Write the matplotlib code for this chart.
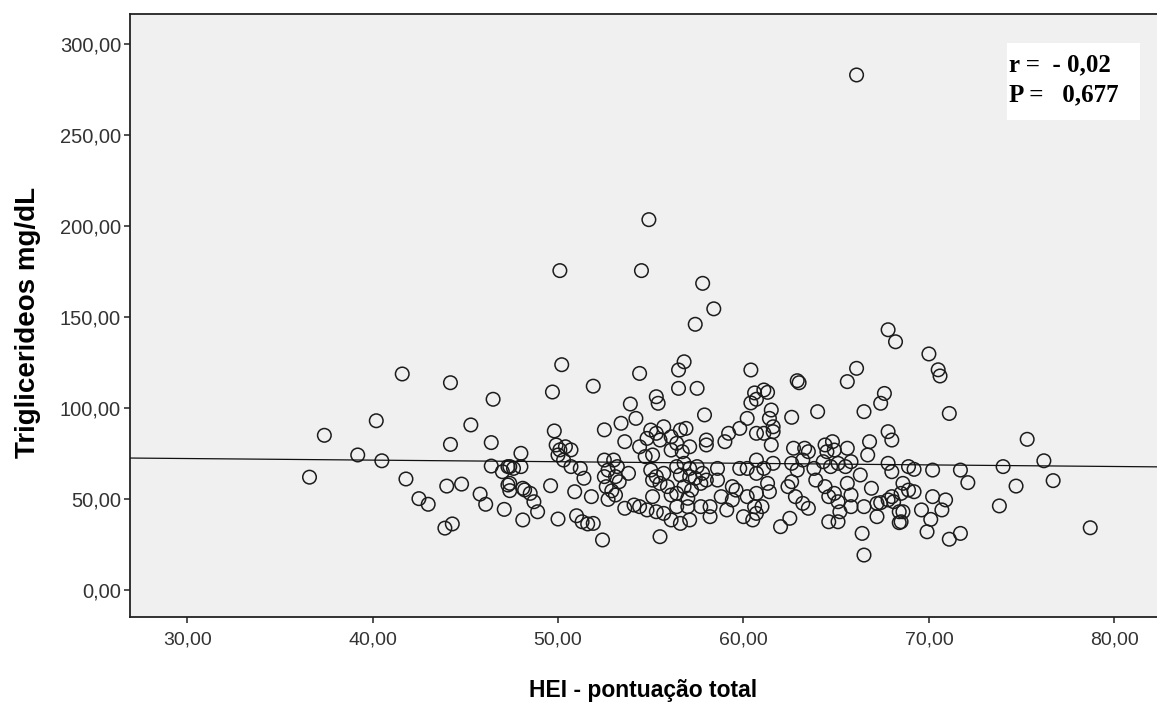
import matplotlib
matplotlib.use("Agg")
import matplotlib.pyplot as plt
from matplotlib.patches import Rectangle

# ---- data ----
hei = [
    66.1, 54.9, 50.1, 54.5, 57.8, 58.4, 57.4, 67.8, 68.2, 70.0, 70.5, 70.6, 66.1, 65.6, 71.1, 67.6, 67.4, 66.5,
    36.6, 37.4, 39.2, 40.2, 40.5, 41.6, 41.8, 42.5, 43.0, 43.9, 44.3, 44.0, 44.8, 44.2, 44.2, 45.3, 46.4, 46.5,
    45.8, 46.1, 46.4, 47.1, 48.0, 47.0, 47.4, 48.0, 47.3, 47.6,
    47.4, 47.4, 48.2, 48.5, 48.7, 48.9, 48.1, 49.6, 50.0, 50.9, 51.0, 51.3, 51.6, 49.9, 50.1, 50.7, 50.3, 50.7,
    50.0, 50.2, 49.7, 49.8, 47.3, 48.1, 50.4, 51.2,
    51.9, 52.5, 52.5, 53.0, 52.5, 53.1, 52.7, 53.2, 53.8, 51.4, 51.8, 52.7, 53.1, 52.6, 53.3, 52.9, 51.9, 52.4,
    53.6, 54.1, 54.4,
    53.4, 54.2, 53.6, 53.9, 54.4,
    56.5, 57.5, 55.3, 55.4, 57.9, 59.8, 60.2, 60.7, 59.2, 59.0, 58.0, 58.0,
    55.0, 55.3, 54.8, 55.5, 55.7, 56.1, 56.6, 56.9, 56.4, 57.1, 56.1, 56.7, 54.4, 54.7, 55.1,
    55.0, 55.3, 55.1, 55.7, 55.5, 55.9, 56.4, 56.8, 57.1, 57.5, 56.6, 57.1, 57.4, 57.8, 56.8, 57.2, 57.7, 58.0,
    56.4, 57.0, 56.1, 55.1, 54.8, 55.3, 55.7, 56.1, 56.6, 57.1, 56.4, 57.0, 57.7, 58.2, 58.2, 58.6, 58.6, 55.5,
    59.8, 60.2, 60.7, 60.7, 59.6, 60.2, 60.6, 60.0, 60.5, 60.7, 59.1, 58.8, 59.4, 59.4,
    56.8, 56.5, 60.4, 62.9,
    60.4, 60.7, 60.6, 61.1, 61.3,
    63.0, 61.5, 61.4, 61.6, 61.1, 61.6, 61.5, 62.6, 64.0, 67.8, 68.0, 66.8, 66.7, 62.7, 63.3, 63.5, 64.4, 64.8,
    64.9, 64.5, 65.6,
    61.1, 61.6, 62.6, 62.9, 63.2, 63.8, 64.3, 64.7, 65.1, 65.5, 65.8, 66.3, 67.8, 68.0, 68.9,
    61.3, 61.4, 60.7, 61.0, 62.4, 62.6, 62.8, 63.2, 63.5, 63.9, 64.4, 64.6, 64.9, 65.1, 65.2, 64.6, 65.1, 65.6,
    65.8, 65.8, 66.5, 66.9, 67.2, 67.8, 68.0, 68.1, 68.4, 68.6, 68.9, 67.2, 68.5, 66.4, 66.5, 62.5, 62.0,
    75.3, 76.2, 76.7, 74.0, 74.7, 73.8, 78.7, 71.7, 72.1, 70.2, 69.2, 68.5, 69.2, 70.2, 70.9, 70.7, 69.6, 70.1,
    69.9, 68.6, 68.4, 71.1, 71.7, 67.4,
]
triglicerideos = [
    283.0, 203.5, 175.5, 175.5, 168.5, 154.5, 146.0, 143.0, 136.4, 129.7, 121.0, 117.6, 121.8, 114.5, 97.0, 108.0, 102.6, 98.0,
    62.0, 85.0, 74.2, 93.0, 71.0, 118.7, 61.0, 50.2, 47.1, 34.0, 36.3, 57.1, 58.2, 113.9, 80.0, 90.7, 81.0, 104.8,
    52.7, 47.1, 68.1, 44.3, 75.1, 65.0, 67.8, 67.8, 67.8, 66.8,
    58.6, 54.6, 55.0, 53.1, 48.5, 43.0, 38.5, 57.3, 39.0, 54.0, 40.8, 37.5, 36.3, 79.7, 77.0, 77.0, 71.4, 67.8,
    74.2, 123.8, 108.8, 87.4, 57.7, 55.9, 78.7, 66.8,
    112.0, 88.0, 71.4, 71.4, 62.3, 62.3, 65.9, 67.8, 64.1, 61.4, 51.3, 49.8, 52.2, 56.8, 59.5, 54.5, 36.6, 27.5,
    44.9, 46.7, 45.8,
    91.6, 94.3, 81.5, 102.2, 119.0,
    110.8, 110.8, 106.2, 102.6, 96.2, 88.8, 94.3, 86.1, 86.1, 81.5, 82.4, 79.7,
    87.9, 86.1, 83.3, 82.4, 89.7, 84.2, 87.9, 88.8, 80.6, 78.7, 76.9, 76.0, 78.7, 73.3, 74.2,
    65.9, 62.3, 60.4, 64.1, 58.6, 56.8, 67.8, 69.6, 66.8, 67.8, 63.2, 62.3, 61.4, 64.1, 56.8, 54.9, 58.6, 60.4,
    53.1, 50.4, 52.2, 51.3, 44.0, 43.0, 42.1, 38.5, 36.6, 38.5, 45.8, 45.8, 45.8, 45.8, 40.3, 66.8, 60.4, 29.3,
    66.8, 66.8, 71.4, 64.1, 54.9, 51.3, 45.8, 40.3, 38.5, 42.1, 44.0, 51.3, 49.5, 56.8,
    125.4, 120.9, 120.9, 115.0,
    102.8, 104.8, 108.3, 109.9, 108.6,
    113.9, 98.9, 94.3, 89.7, 86.1, 87.0, 79.7, 94.9, 98.0, 87.0, 82.4, 81.5, 74.2, 77.9, 77.9, 76.0, 79.7, 81.5,
    76.9, 76.0, 77.9,
    66.8, 69.6, 69.6, 65.9, 71.4, 66.8, 70.5, 67.8, 69.6, 67.8, 70.5, 63.2, 69.6, 65.0, 67.8,
    58.6, 54.0, 53.1, 45.8, 56.8, 59.5, 51.3, 47.6, 44.9, 60.4, 56.8, 51.3, 53.1, 48.5, 43.0, 37.5, 37.5, 58.6,
    52.2, 45.8, 45.8, 55.9, 47.6, 49.5, 51.3, 48.5, 43.0, 58.6, 54.9, 40.3, 37.5, 31.1, 19.2, 39.4, 34.8,
    82.8, 71.0, 60.1, 67.8, 57.1, 46.2, 34.2, 65.9, 59.0, 65.9, 66.3, 53.1, 54.0, 51.3, 49.5, 44.0, 44.0, 38.8,
    32.0, 43.0, 37.0, 27.9, 31.1, 48.0,
]
# fitted line: y = intercept + slope * x
fit_intercept = 74.86
fit_slope = -0.0874

x_ticks = [30, 40, 50, 60, 70, 80]
y_ticks = [0, 50, 100, 150, 200, 250, 300]
x_label = "HEI - pontuação total"
y_label = "Triglicerideos mg/dL"
stats_lines = ["r =  - 0,02", "P =   0,677"]

def fmt(v):
    return f"{v:.2f}".replace(".", ",")

W, H = 1157, 709
fig = plt.figure(figsize=(W / 100, H / 100), dpi=100)
fig.patch.set_facecolor("white")

# axes frame in pixels: left 130, right 1157, top 14, bottom 617
ax = fig.add_axes([130 / W, (H - 617.3) / H, (W - 130) / W, (617.3 - 14) / H])
ax.set_facecolor("#f0f0f0")

xmin, xmax = 26.92, 82.3
ymin, ymax = -15.0, 316.5
ax.set_xlim(xmin, xmax)
ax.set_ylim(ymin, ymax)

ax.scatter(hei, triglicerideos, s=95, facecolors="none", edgecolors="#1c1c1c",
           linewidths=1.1, zorder=3)

ax.plot([xmin, xmax], [fit_intercept + fit_slope * xmin, fit_intercept + fit_slope * xmax],
        color="#111111", lw=0.9, zorder=4)

for side in ["left", "top", "bottom"]:
    ax.spines[side].set_color("#222222")
    ax.spines[side].set_linewidth(1.3)
ax.spines["right"].set_visible(False)

ax.set_xticks(x_ticks)
ax.set_xticklabels([fmt(v) for v in x_ticks])
ax.set_yticks(y_ticks)
ax.set_yticklabels([fmt(v) for v in y_ticks])
ax.tick_params(direction="out", length=4.5, width=1.1, color="#222222",
               labelsize=14, labelcolor="#333333")
ax.tick_params(axis="x", pad=6)
ax.tick_params(axis="y", labelsize=14.5, pad=2)
for lab in ax.get_xticklabels() + ax.get_yticklabels():
    lab.set_fontfamily("Liberation Sans")

ax.set_xlabel(x_label, fontsize=16.5, fontweight="bold", family="Liberation Sans")
ax.set_ylabel(y_label, fontsize=20, fontweight="bold", family="Liberation Sans")
ax.xaxis.set_label_coords(0.5, (617.3 - 690) / 603.3)
ax.xaxis.label.set_va("center")
ax.yaxis.set_label_coords((28 - 130) / 1027, 0.488)
ax.yaxis.label.set_va("center")

# statistics box
fig.add_artist(Rectangle((1007 / W, (H - 120) / H), 133 / W, 77 / H,
                         transform=fig.transFigure, facecolor="white", edgecolor="none", zorder=5))
fig.text(1009 / W, (H - 71.7) / H, stats_lines[0], fontsize=18, fontweight="bold",
         family="Liberation Serif", va="baseline", ha="left", zorder=6)
fig.text(1009 / W, (H - 101.7) / H, stats_lines[1], fontsize=18, fontweight="bold",
         family="Liberation Serif", va="baseline", ha="left", zorder=6)

fig.savefig("out.png", dpi=100)
